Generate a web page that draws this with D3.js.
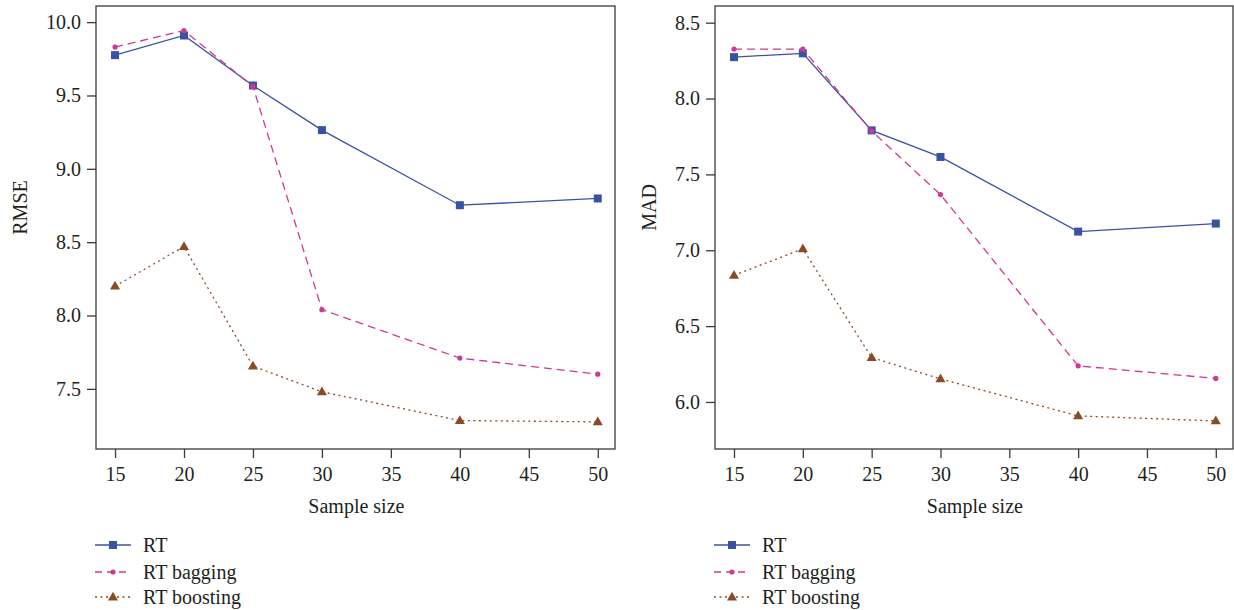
<!DOCTYPE html>
<html>
<head>
<meta charset="utf-8">
<script src="https://cdn.jsdelivr.net/npm/d3@7"></script>
<style>
  body { margin: 0; background: #fff; }
  svg { display: block; }
  text { font-family: "Liberation Serif", "DejaVu Serif", serif; fill: #231f20; }
</style>
</head>
<body>
<div class="chart"></div>
<script>
// data
const sampleSizes = [15, 20, 25, 30, 40, 50];
const xTicks = [15, 20, 25, 30, 35, 40, 45, 50];

const rmseRT = [9.775, 9.909, 9.568, 9.264, 8.752, 8.798];
const rmseBagging = [9.83, 9.943, 9.561, 8.04, 7.71, 7.60];
const rmseBoosting = [8.20, 8.47, 7.655, 7.48, 7.284, 7.275];
const rmseTicks = [7.5, 8.0, 8.5, 9.0, 9.5, 10.0];

const madRT = [8.273, 8.298, 7.79, 7.615, 7.123, 7.176];
const madBagging = [8.326, 8.326, 7.786, 7.367, 6.238, 6.155];
const madBoosting = [6.835, 7.009, 6.293, 6.152, 5.908, 5.875];
const madTicks = [6.0, 6.5, 7.0, 7.5, 8.0, 8.5];

const seriesNames = ["RT", "RT bagging", "RT boosting"];

// styles
const styles = {
   "RT": { color: "#3a52a3", dash: null, marker: "square" },
   "RT bagging": { color: "#cc3a94", dash: "8,5", marker: "dot" },
   "RT boosting": { color: "#8c4a24", dash: "2,3.5", marker: "triangle" }
};

const width = 1234;
const height = 610;

const svg = d3.select(".chart")
   .append("svg")
   .attr("width", width)
   .attr("height", height);

function drawMarker(g, type, color, x, y) {
   if (type === "square") {
      g.append("rect")
         .attr("x", x - 4).attr("y", y - 4)
         .attr("width", 8).attr("height", 8)
         .attr("fill", color);
   } else if (type === "dot") {
      g.append("circle")
         .attr("cx", x).attr("cy", y).attr("r", 2.6)
         .attr("fill", color);
   } else {
      g.append("path")
         .attr("d", d3.symbol(d3.symbolTriangle, 44)())
         .attr("transform", `translate(${x},${y + 0.5})`)
         .attr("fill", color);
   }
}

function panel(opts) {
   const { left, right, top, bottom, yDomain, yTicks, yLabel, yLabelX, series } = opts;
   const g = svg.append("g");

   const xScale = d3.scaleLinear().domain([13.62, 51.25]).range([left, right]);
   const yScale = d3.scaleLinear().domain(yDomain).range([bottom, top]);

   // frame
   g.append("rect")
      .attr("x", left).attr("y", top)
      .attr("width", right - left).attr("height", bottom - top)
      .attr("fill", "none")
      .attr("stroke", "#3a3a3a")
      .attr("stroke-width", 1.3);

   const xAxis = d3.axisBottom(xScale).tickValues(xTicks).tickSize(9).tickPadding(9);
   const gx = g.append("g").attr("transform", `translate(0,${bottom})`).call(xAxis);
   const yAxis = d3.axisLeft(yScale).tickValues(yTicks).tickSize(9).tickPadding(6)
      .tickFormat(d3.format(".1f"));
   const gy = g.append("g").attr("transform", `translate(${left},0)`).call(yAxis);

   [gx, gy].forEach((a) => {
      a.select(".domain").remove();
      a.selectAll(".tick line").attr("stroke", "#3a3a3a").attr("stroke-width", 1.3);
      a.selectAll(".tick text")
         .attr("fill", "#231f20")
         .style("font-size", "20px")
         .style("font-family", "'Liberation Serif', serif");
   });

   g.append("text")
      .attr("x", (xScale(15) + xScale(50)) / 2)
      .attr("y", bottom + 64)
      .attr("text-anchor", "middle")
      .style("font-size", "20px")
      .text("Sample size");

   g.append("text")
      .attr("transform", `translate(${yLabelX},${(top + bottom) / 2 - 20}) rotate(-90)`)
      .attr("text-anchor", "middle")
      .attr("dominant-baseline", "central")
      .style("font-size", "20px")
      .text(yLabel);

   const line = d3.line()
      .x((d, i) => xScale(sampleSizes[i]))
      .y((d) => yScale(d));

   series.forEach((values, k) => {
      const st = styles[seriesNames[k]];
      g.append("path")
         .datum(values)
         .attr("d", line)
         .attr("fill", "none")
         .attr("stroke", st.color)
         .attr("stroke-width", 1.3)
         .attr("stroke-dasharray", st.dash);
      values.forEach((v, i) => drawMarker(g, st.marker, st.color, xScale(sampleSizes[i]), yScale(v)));
   });

   // legend
   const legend = g.append("g").attr("transform", `translate(${left - 1},0)`);
   const rowsY = [545, 572, 597];
   seriesNames.forEach((name, k) => {
      const st = styles[name];
      const y = rowsY[k];
      legend.append("line")
         .attr("x1", 0).attr("x2", 36)
         .attr("y1", y).attr("y2", y)
         .attr("stroke", st.color)
         .attr("stroke-width", 1.3)
         .attr("stroke-dasharray", name === "RT bagging" ? "7,5" : st.dash);
      drawMarker(legend, st.marker, st.color, 18, y);
      legend.append("text")
         .attr("x", 48).attr("y", y)
         .attr("dominant-baseline", "central")
         .style("font-size", "20px")
         .text(name);
   });
}

panel({
   left: 96, right: 615, top: 6, bottom: 449,
   yDomain: [7.09, 10.11], yTicks: rmseTicks, yLabel: "RMSE", yLabelX: 20,
   series: [rmseRT, rmseBagging, rmseBoosting]
});

panel({
   left: 715, right: 1233, top: 6, bottom: 449,
   yDomain: [5.69, 8.61], yTicks: madTicks, yLabel: "MAD", yLabelX: 649,
   series: [madRT, madBagging, madBoosting]
});
</script>
</body>
</html>
